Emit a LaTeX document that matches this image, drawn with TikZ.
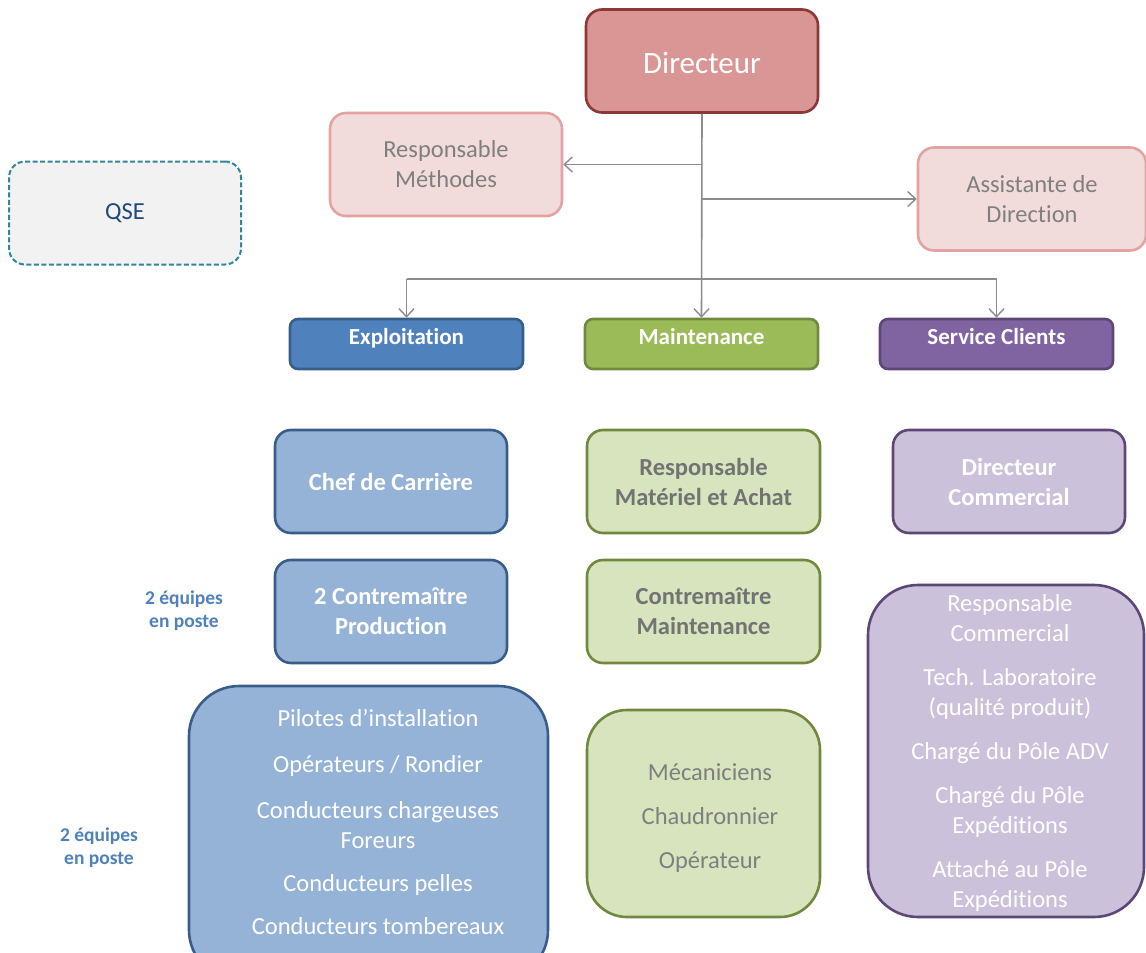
\documentclass[tikz,border=0pt]{standalone}
\usepackage{fontspec}
\setmainfont{Carlito}[Ligatures={NoCommon}]
\usetikzlibrary{arrows.meta}
\definecolor{dirFill}{HTML}{D99694}
\definecolor{dirLine}{HTML}{8C3836}
\definecolor{pinkFill}{HTML}{F2DCDB}
\definecolor{pinkLine}{HTML}{E3A3A2}
\definecolor{greyText}{HTML}{7F7F7F}
\definecolor{greenText}{HTML}{737373}
\definecolor{qseLine}{HTML}{31859C}
\definecolor{qseFill}{HTML}{F2F2F2}
\definecolor{qseText}{HTML}{1F497D}
\definecolor{blueHead}{HTML}{4F81BD}
\definecolor{blueLine}{HTML}{385D8A}
\definecolor{blueLight}{HTML}{95B3D7}
\definecolor{greenHead}{HTML}{9BBB59}
\definecolor{greenLine}{HTML}{71893F}
\definecolor{greenLight}{HTML}{D7E4BD}
\definecolor{purpleHead}{HTML}{8064A2}
\definecolor{purpleLine}{HTML}{5C4776}
\definecolor{purpleLight}{HTML}{CCC1DA}
\definecolor{connGrey}{HTML}{8C8C8C}
\definecolor{labelBlue}{HTML}{4F81BD}
\tikzset{
  box/.style={draw, rounded corners=16pt, line width=2.6pt, align=center, inner sep=0pt,
    minimum width=232pt, minimum height=103pt, font=\fontsize{24.5}{30}\selectfont},
  pinkbox/.style={box, fill=pinkFill, draw=pinkLine, text=greyText},
  headbox/.style={box, rounded corners=8pt, minimum height=50pt, text=white,
    font=\fontsize{23}{27}\bfseries, text height=12pt, text depth=12pt},
  bluebox/.style={box, fill=blueLight, draw=blueLine, text=white, font=\fontsize{24.5}{30}\bfseries},
  greenbox/.style={box, fill=greenLight, draw=greenLine, text=greenText, font=\fontsize{24.5}{30}\bfseries},
  purplebox/.style={box, fill=purpleLight, draw=purpleLine, text=white, font=\fontsize{24.5}{30}\bfseries},
  listtext/.style={align=center, inner sep=0pt, font=\fontsize{24.5}{30}\selectfont},
  conn/.style={draw=connGrey, line width=1.6pt},
  arr/.style={conn, -{Straight Barb[length=8pt,width=15pt,line width=1.4pt]}},
  teamlabel/.style={align=center, inner sep=0pt, text=labelBlue, font=\fontsize{19.5}{23}\bfseries}
}
\begin{document}
\begin{tikzpicture}[x=1pt,y=-1pt]
\useasboundingbox (0,0) rectangle (1146,953);
\fill[white] (0,0) rectangle (1146,953);

% top level
\node[box, fill=dirFill, draw=dirLine, text=white, font=\fontsize{31}{36}\selectfont, text height=26pt, text depth=2pt] (dir) at (702,61) {Directeur};
\node[pinkbox] (meth) at (446,164.5) {Responsable\\Méthodes};
\node[pinkbox, minimum width=228pt] (assist) at (1032,199) {Assistante de\\Direction};
\node[box, dashed, dash pattern=on 5pt off 2.5pt, fill=qseFill, draw=qseLine, text=qseText, line width=2pt] (qse) at (125,213) {QSE};

% headers
\node[headbox, fill=blueHead, draw=blueLine, minimum width=233pt] (expl) at (406.5,344) {Exploitation};
\node[headbox, fill=greenHead, draw=greenLine, minimum width=233pt] (maint) at (701.5,344) {Maintenance};
\node[headbox, fill=purpleHead, draw=purpleLine, minimum width=233pt] (serv) at (996.5,344) {Service Clients};

% Exploitation column
\node[bluebox] (chef) at (391,481.5) {Chef de Carrière};
\node[bluebox] (contp) at (391,611.5) {2 Contremaître\\Production};
\node[box, fill=blueLight, draw=blueLine, rounded corners=50pt, minimum width=359pt, minimum height=294pt] (ops) at (368.5,833) {};
\node[listtext, text=white] (opstext) at (378,822) {Pilotes d’installation\\[16pt]Opérateurs / Rondier\\[16pt]Conducteurs chargeuses\\Foreurs\\[13pt]Conducteurs pelles\\[13pt]Conducteurs tombereaux};
\node[teamlabel] (team1) at (184,611) {2 équipes\\en poste};
\node[teamlabel] (team2) at (99,848) {2 équipes\\en poste};

% Maintenance column
\node[greenbox, minimum width=233pt] (rma) at (703.5,481.5) {Responsable\\Matériel et Achat};
\node[greenbox, minimum width=233pt] (contm) at (703.5,611.5) {Contremaître\\Maintenance};
\node[box, fill=greenLight, draw=greenLine, rounded corners=40pt, minimum width=233pt, minimum height=207pt] (meca) at (703.5,813.5) {};
\node[listtext, text=greyText] (mecatext) at (710,818) {Mécaniciens\\[14pt]Chaudronnier\\[14pt]Opérateur};

% Service Clients column
\node[purplebox] (dc) at (1009,481.5) {Directeur\\Commercial};
\node[box, fill=purpleLight, draw=purpleLine, rounded corners=50pt, minimum width=276pt, minimum height=332pt] (com) at (1006,751) {};
\node[listtext, text=white] (comtext) at (1010,753) {Responsable\\Commercial\\[14pt]Tech. Laboratoire\\(qualité produit)\\[14pt]Chargé du Pôle ADV\\[14pt]Chargé du Pôle\\Expéditions\\[14pt]Attaché au Pôle\\Expéditions};

% connectors
\coordinate (bar) at (702,279);
\draw[arr] (dir.south) -- (maint.north);
\draw[arr] (dir.south |- meth.east) -- (meth.east);
\draw[arr] (dir.south |- assist.west) -- (assist.west);
\draw[conn] (expl.north |- bar) -- (serv.north |- bar);
\draw[arr] (expl.north |- bar) -- (expl.north);
\draw[arr] (serv.north |- bar) -- (serv.north);
\end{tikzpicture}
\end{document}
